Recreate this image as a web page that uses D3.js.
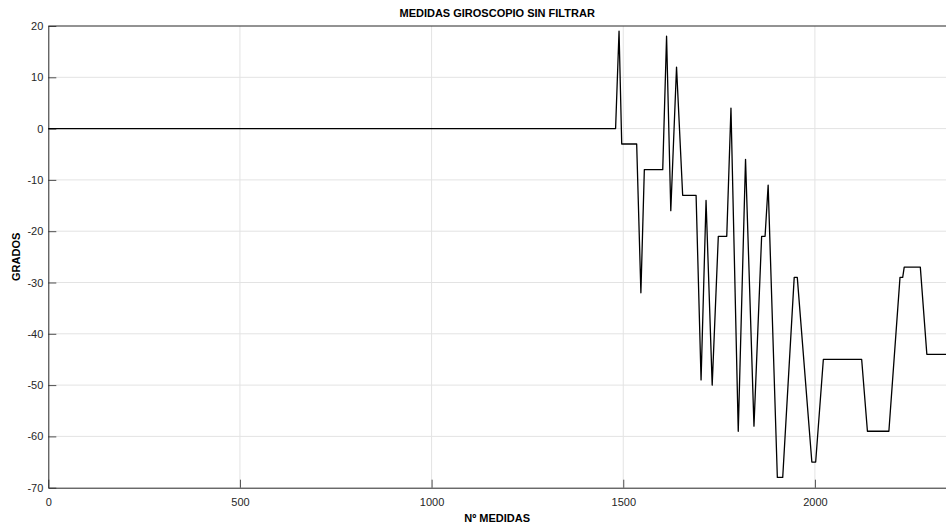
<!DOCTYPE html>
<html><head><meta charset="utf-8">
<script src="https://cdn.jsdelivr.net/npm/d3@7"></script>
<style>body{margin:0;background:#fff;}svg{display:block;}text{font-family:"Liberation Sans",Arial,Helvetica,sans-serif;}</style>
</head><body><svg id="c" width="946" height="526"></svg>
<script>
// sample index (Nº medidas) and gyro reading (grados)
const medidas = [0,1480,1489,1496,1535,1546,1555,1603,1613,1624,1639,1655,1690,1703,1716,1732,1748,1770,1781,1800,1819,1841,1861,1870,1878,1902,1916,1946,1954,1992,2002,2022,2122,2137,2193,2222,2229,2233,2275,2292,2342];
const grados  = [0,0,19,-3,-3,-32,-8,-8,18,-16,12,-13,-13,-49,-14,-50,-21,-21,4,-59,-6,-58,-21,-21,-11,-68,-68,-29,-29,-65,-65,-45,-45,-59,-59,-29,-29,-27,-27,-44,-44];
const xTicks = [0,500,1000,1500,2000];
const yTicks = [20,10,0,-10,-20,-30,-40,-50,-60,-70];
const title = "MEDIDAS GIROSCOPIO SIN FILTRAR";
const xLabel = "Nº MEDIDAS";
const yLabel = "GRADOS";

const svg = d3.select("#c");
const L = 48.3, T = 26, R = 946, B = 487.7;
const x = d3.scaleLinear().domain([0,2342]).range([L,R]);
const y = d3.scaleLinear().domain([-70,20]).range([B,T]);
const ax = "#262626";
const fmt = d => String(d);

// grid
svg.append("g").selectAll("line").data(xTicks.filter(d=>d>0)).join("line")
  .attr("x1",d=>x(d)).attr("x2",d=>x(d)).attr("y1",T).attr("y2",B)
  .attr("stroke","#e3e3e3").attr("stroke-width",1);
svg.append("g").selectAll("line").data(yTicks.filter(d=>d>-70&&d<20)).join("line")
  .attr("x1",L).attr("x2",R).attr("y1",d=>y(d)).attr("y2",d=>y(d))
  .attr("stroke","#e3e3e3").attr("stroke-width",1);

// axes
const xa = svg.append("g").attr("transform",`translate(0,${B})`)
  .call(d3.axisBottom(x).tickValues(xTicks).tickFormat(fmt).tickSizeInner(-8).tickSizeOuter(0).tickPadding(11));
const ya = svg.append("g").attr("transform",`translate(${L},0)`)
  .call(d3.axisLeft(y).tickValues(yTicks).tickFormat(fmt).tickSizeInner(-8).tickSizeOuter(0).tickPadding(5));
[xa,ya].forEach(g=>{
  g.select(".domain").attr("stroke",ax).attr("stroke-width",1);
  g.selectAll(".tick line").attr("stroke",ax).attr("stroke-width",0.8);
  g.selectAll(".tick text").attr("fill",ax).style("font-size","11px");
});
// top border
svg.append("line").attr("x1",L).attr("x2",R).attr("y1",T).attr("y2",T).attr("stroke",ax).attr("stroke-width",1);

// data line
svg.append("path").datum(medidas.map((m,i)=>[m,grados[i]]))
  .attr("fill","none").attr("stroke","#000").attr("stroke-width",1.3).attr("stroke-linejoin","round")
  .attr("d",d3.line().x(d=>x(d[0])).y(d=>y(d[1])));

// labels
svg.append("text").attr("x",(L+R)/2).attr("y",17).attr("text-anchor","middle")
  .style("font-size","11px").style("font-weight","bold").attr("fill","#000").text(title);
svg.append("text").attr("x",(L+R)/2).attr("y",522).attr("text-anchor","middle")
  .style("font-size","11px").style("font-weight","bold").attr("fill","#000").text(xLabel);
svg.append("text").attr("transform",`translate(20,${(T+B)/2}) rotate(-90)`).attr("text-anchor","middle")
  .style("font-size","11px").style("font-weight","bold").attr("fill","#000").text(yLabel);
</script></body></html>
